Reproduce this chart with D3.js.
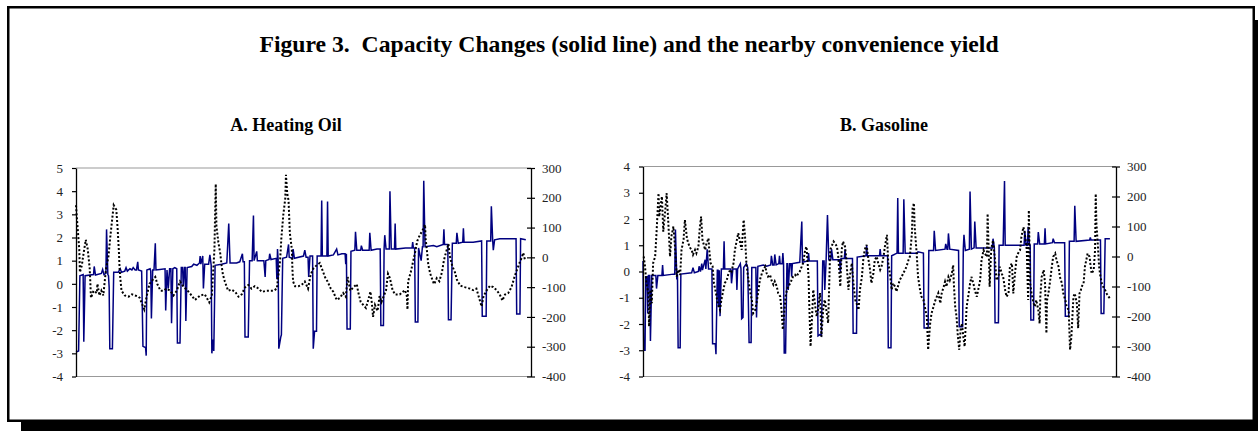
<!DOCTYPE html>
<html>
<head>
<meta charset="utf-8">
<script src="https://cdn.jsdelivr.net/npm/d3@7"></script>
<style>
  body { margin: 0; background: #fff; }
  svg text { font-family: "Liberation Serif", "Times New Roman", serif; }
</style>
</head>
<body>
<svg id="chart" width="1258" height="431"></svg>
<script>
// weeks since start of sample, shared by both panels
var weekDomain = [0, 700];

var leftTicksA = [-4, -3, -2, -1, 0, 1, 2, 3, 4, 5];
var leftTicksB = [-4, -3, -2, -1, 0, 1, 2, 3, 4];
var rightTicks = [-400, -300, -200, -100, 0, 100, 200, 300];

// A. Heating oil: capacity changes (left axis), [week, value]
var hoCapacity = [[0,-2.95],[4,-2.9],[6,0.35],[11,0.4],[12,-2.5],[14,0.35],[27,0.4],[28,0.75],[30,0.38],[39,0.45],[41,0.62],[43,0.4],[46,0.45],[47,2.35],[49,0.4],[50,0.35],[51,-0.15],[52,-2.8],[56,-2.8],[58,0.5],[65,0.5],[68,0.65],[70,0.5],[75,0.55],[77,0.7],[79,0.55],[83,0.65],[86,0.6],[88,0.7],[91,0.6],[93,0.6],[95,0.95],[96,0.6],[101,0.55],[103,-2.7],[107,-2.75],[108,-3.1],[109,0.6],[114,0.65],[115,0.55],[116,-1.5],[118,0.6],[120,0.6],[122,1.75],[123,0.6],[129,0.62],[137,0.65],[138,-1.15],[140,0.6],[142,-0.2],[144,0.65],[146,0.65],[147,-1.7],[149,0.65],[152,0.7],[155,0.65],[156,-2.55],[160,-2.55],[162,0.7],[164,0.7],[165,-0.1],[167,0.7],[168,0.7],[169,-1.6],[171,0.7],[178,0.75],[181,0.85],[186,0.8],[190,0.9],[191,1.2],[192,0.85],[195,1.2],[196,-0.2],[198,0.85],[204,0.85],[206,1.25],[208,0.8],[209,-3.0],[211,-2.4],[212,-2.9],[214,0.8],[224,0.85],[232,0.9],[235,2.6],[237,0.9],[247,0.9],[252,0.95],[256,1.3],[257,0.95],[259,0.95],[260,-2.3],[265,-2.3],[267,1.0],[271,1.0],[273,2.95],[274,1.0],[278,1.4],[279,1.0],[289,1.0],[291,0.3],[292,1.0],[297,1.05],[298,1.3],[300,1.05],[308,1.1],[309,0.2],[310,1.5],[311,1.05],[312,-2.8],[315,-2.3],[316,-2.2],[318,1.1],[324,1.15],[327,1.7],[328,1.15],[333,1.1],[334,1.5],[336,1.1],[350,1.2],[352,1.45],[354,1.15],[357,1.15],[358,0.3],[360,1.2],[364,1.2],[365,-2.8],[367,-2.05],[370,-2.05],[371,1.2],[377,1.2],[378,3.6],[379,1.2],[386,1.2],[387,3.55],[388,1.2],[396,1.25],[401,1.5],[403,1.25],[409,1.3],[414,1.3],[415,0.85],[416,1.3],[417,-1.95],[422,-1.95],[423,1.4],[429,1.45],[430,2.25],[432,1.45],[438,1.45],[439,1.65],[441,1.45],[451,1.45],[452,2.2],[454,1.45],[463,1.5],[468,1.5],[469,-1.8],[473,-1.8],[474,1.5],[475,2.1],[477,1.5],[482,1.5],[483,4.0],[485,1.5],[490,1.5],[491,2.6],[492,1.5],[507,1.55],[517,1.55],[518,1.8],[519,1.55],[521,1.55],[522,-1.65],[526,-1.65],[527,1.55],[531,1.0],[533,1.6],[534,1.6],[535,4.45],[537,1.6],[550,1.65],[555,1.6],[565,1.7],[566,2.35],[567,1.7],[572,1.7],[573,-1.55],[577,-1.55],[579,1.75],[585,1.75],[586,2.2],[588,1.75],[595,1.8],[596,2.4],[597,1.8],[611,1.8],[624,1.85],[625,-1.4],[631,-1.4],[632,1.85],[638,1.85],[639,3.35],[641,1.9],[642,1.45],[644,1.9],[652,1.95],[663,1.95],[677,1.95],[678,-1.3],[683,-1.3],[684,1.95],[692,1.9]];

// A. Heating oil: nearby convenience yield (right axis)
var hoYield = [[0,175],[2,113],[5,28],[6,-50],[9,-27],[11,4],[15,59],[18,28],[21,-35],[22,-81],[23,-136],[27,-112],[32,-120],[33,-89],[36,-128],[39,-112],[42,-128],[46,-42],[50,4],[53,74],[58,175],[62,160],[64,98],[66,20],[67,-35],[68,-66],[70,-112],[75,-128],[81,-132],[86,-124],[91,-128],[96,-132],[98,-136],[105,-175],[109,-128],[113,-89],[119,-73],[122,-66],[125,-89],[130,-112],[135,-112],[139,-105],[145,-112],[150,-128],[155,-112],[160,-81],[165,-97],[170,-108],[175,-120],[183,-143],[191,-128],[198,-124],[205,-151],[209,-128],[211,-50],[213,28],[214,144],[215,246],[216,106],[219,51],[222,12],[224,-27],[226,-58],[229,-81],[234,-112],[239,-108],[245,-116],[250,-132],[255,-124],[260,-101],[265,-93],[270,-105],[275,-97],[281,-105],[286,-116],[293,-112],[304,-112],[309,-105],[311,-66],[314,-11],[316,67],[319,144],[322,199],[323,277],[325,214],[327,191],[329,82],[332,28],[333,-42],[334,-81],[337,-97],[342,-97],[347,-93],[352,-81],[357,-105],[361,-58],[365,-38],[370,-27],[375,-19],[379,-42],[383,-66],[387,-81],[392,-105],[396,-116],[401,-143],[406,-136],[411,-120],[415,-132],[418,-66],[422,-112],[427,-100],[432,-90],[434,-115],[438,-150],[442,-160],[446,-170],[450,-140],[453,-115],[455,-150],[457,-200],[460,-160],[464,-180],[467,-130],[470,-150],[477,-110],[480,-55],[483,-70],[487,-110],[491,-125],[498,-125],[506,-110],[509,-130],[510,-175],[511,-80],[515,-50],[518,-20],[522,20],[525,55],[529,75],[533,90],[537,110],[538,60],[540,20],[542,-25],[545,-55],[549,-80],[551,-90],[555,-70],[559,-80],[563,-50],[566,-10],[569,15],[573,45],[575,5],[579,-30],[583,-50],[586,-75],[591,-95],[598,-100],[606,-105],[611,-110],[616,-105],[620,-135],[624,-165],[627,-130],[632,-110],[637,-95],[642,-100],[647,-110],[652,-125],[656,-145],[660,-125],[665,-120],[670,-100],[674,-70],[677,-50],[683,-15],[686,0],[688,15],[691,-10]];

// B. Gasoline: capacity changes (left axis)
var gasCapacity = [[0,0.4],[1,-3.0],[3,-3.0],[4,-0.2],[6,-0.2],[7,-1.6],[8,-0.15],[10,-0.15],[11,-2.65],[13,-0.15],[19,-0.15],[20,-0.65],[22,-0.15],[28,-0.15],[29,0.25],[30,-0.15],[45,-0.1],[47,-0.1],[48,1.6],[50,-0.3],[51,-0.1],[52,-2.9],[55,-2.9],[56,-0.1],[72,-0.05],[74,0.15],[76,-0.05],[82,0.0],[83,0.2],[85,0.0],[87,0.3],[88,0.05],[92,0.45],[93,0.1],[95,0.85],[97,0.1],[102,0.1],[103,-2.75],[107,-2.75],[108,-3.15],[110,0.05],[111,0.05],[112,-1.35],[113,0.05],[114,-1.7],[116,0.1],[119,0.1],[120,1.15],[121,0.1],[130,0.1],[131,-0.45],[133,0.1],[138,0.1],[139,-0.7],[140,0.1],[144,0.3],[145,0.1],[146,-1.8],[148,-1.75],[149,0.15],[153,0.3],[155,0.15],[157,-2.7],[160,-2.7],[161,0.15],[167,0.15],[168,-1.75],[170,0.2],[178,0.25],[183,0.2],[189,0.25],[190,0.6],[192,0.25],[194,0.25],[195,0.65],[197,0.25],[201,0.3],[202,0.6],[203,0.3],[206,0.3],[207,0.7],[208,0.3],[209,-3.1],[211,-3.1],[213,0.3],[214,0.3],[215,-0.7],[217,0.3],[219,0.3],[220,-0.2],[221,0.3],[232,0.35],[235,1.9],[236,0.35],[244,0.4],[245,0.7],[246,0.4],[258,0.4],[259,-2.45],[262,-2.4],[264,-2.45],[266,0.4],[268,0.4],[269,-0.7],[271,0.45],[273,2.15],[275,0.45],[278,0.45],[279,0.85],[281,0.45],[291,0.45],[292,-0.05],[293,0.5],[298,0.5],[299,0.85],[300,0.5],[310,0.5],[311,-2.35],[316,-2.35],[317,0.55],[330,0.6],[331,1.0],[332,0.6],[350,0.6],[351,0.85],[352,0.6],[362,0.6],[363,-2.9],[367,-2.9],[368,0.6],[376,0.7],[377,2.8],[378,0.7],[385,0.7],[386,2.75],[388,0.7],[406,0.7],[407,0.75],[415,0.7],[416,-2.15],[422,-2.15],[423,0.8],[430,0.8],[431,1.55],[433,0.8],[447,0.85],[448,1.05],[450,0.85],[451,0.85],[452,1.45],[454,0.85],[467,0.8],[468,-2.1],[473,-2.1],[474,0.85],[475,1.4],[477,0.8],[483,0.85],[484,3.05],[486,0.85],[490,0.9],[491,1.9],[493,0.9],[517,0.9],[518,1.25],[520,0.9],[521,-1.95],[526,-1.95],[527,1.0],[533,1.0],[535,3.45],[536,1.0],[564,1.0],[565,1.55],[567,1.0],[569,1.0],[570,1.7],[572,1.0],[573,1.0],[574,-1.85],[578,-1.85],[579,1.05],[584,1.05],[585,1.5],[587,1.05],[594,1.05],[595,1.65],[596,1.05],[606,1.1],[607,1.25],[609,1.1],[624,1.1],[625,-1.7],[630,-1.7],[631,1.15],[638,1.15],[639,2.5],[641,1.15],[661,1.2],[662,1.3],[663,1.2],[677,1.2],[678,-1.6],[682,-1.6],[684,1.25],[691,1.25]];

// B. Gasoline: nearby convenience yield (right axis)
var gasYield = [[1,0],[3,-33],[5,-89],[8,-122],[9,-233],[11,-111],[13,-156],[15,-22],[18,0],[20,78],[23,211],[24,133],[26,167],[28,200],[30,83],[33,156],[35,211],[37,133],[40,0],[42,67],[45,100],[47,44],[50,-67],[52,-44],[55,-61],[57,22],[60,56],[62,122],[65,61],[67,44],[70,28],[72,22],[74,6],[77,22],[79,11],[82,33],[84,94],[86,133],[88,56],[92,22],[94,44],[97,61],[98,22],[100,-22],[103,-33],[105,-89],[108,-122],[110,-150],[112,-167],[114,-178],[116,-144],[119,-111],[121,-89],[124,-78],[126,-61],[129,-44],[131,-50],[134,-22],[136,22],[139,56],[141,78],[144,44],[146,22],[148,89],[149,122],[151,67],[153,-22],[156,-78],[158,-111],[161,-144],[163,-189],[166,-178],[168,-156],[171,-111],[173,-78],[176,-56],[178,-44],[181,-33],[183,-56],[185,-67],[188,-61],[190,-78],[193,-94],[195,-83],[198,-100],[200,-122],[203,-133],[205,-178],[207,-244],[209,-189],[211,-133],[213,-111],[215,-100],[218,-89],[220,-78],[222,-67],[225,-61],[227,-67],[230,-56],[232,-50],[235,-33],[237,-22],[240,22],[242,33],[245,-67],[246,-156],[248,-300],[250,-211],[252,-111],[255,-167],[257,-200],[259,-178],[262,-122],[264,-267],[267,-167],[269,-144],[272,-189],[274,-222],[277,22],[279,33],[282,50],[284,44],[287,33],[289,0],[292,-100],[294,22],[296,50],[299,33],[301,-11],[304,-111],[306,-67],[309,-22],[311,-78],[314,-144],[316,-156],[319,-178],[321,-111],[324,-67],[326,-11],[328,22],[331,39],[333,0],[336,-44],[338,-89],[341,-56],[343,-11],[346,0],[348,-22],[351,-44],[353,-33],[356,0],[358,33],[361,72],[363,-22],[366,-67],[368,-111],[370,-89],[373,-100],[375,-117],[378,-94],[380,-78],[383,-67],[385,-56],[388,-44],[390,-33],[393,-11],[395,0],[398,78],[399,161],[401,178],[402,100],[405,11],[407,-67],[410,-111],[412,-133],[415,-144],[417,-167],[420,-200],[422,-311],[425,-222],[427,-189],[430,-167],[432,-150],[435,-133],[437,-122],[440,-156],[442,-123],[445,-101],[447,-84],[449,-101],[452,-68],[454,-79],[457,-57],[459,-29],[460,-90],[462,-167],[464,-200],[466,-267],[468,-311],[470,-245],[472,-223],[474,-267],[476,-300],[479,-167],[482,-123],[484,-90],[486,-68],[489,-90],[491,-112],[494,-134],[496,-112],[499,-79],[501,-12],[504,21],[506,10],[509,-1],[510,143],[512,-12],[513,-101],[515,10],[516,32],[518,54],[521,-12],[523,-79],[526,-68],[528,-34],[531,-57],[533,-68],[536,-112],[538,-134],[541,-123],[543,-34],[546,-23],[548,-123],[551,-45],[553,-1],[555,10],[558,21],[560,65],[563,98],[565,76],[568,21],[569,-68],[570,-145],[571,154],[573,-90],[575,-123],[578,-156],[580,-167],[582,-145],[585,-178],[587,-223],[588,-134],[590,-68],[593,-45],[595,-90],[597,-256],[598,-145],[600,-123],[602,-90],[605,-34],[607,-1],[610,10],[612,-12],[615,-34],[617,-68],[620,-90],[622,-123],[625,-145],[627,-167],[630,-178],[631,-245],[632,-311],[634,-267],[637,-134],[639,-123],[642,-156],[644,-239],[646,-123],[648,-112],[649,-101],[652,-90],[654,-34],[657,-1],[658,10],[661,-1],[662,-23],[664,-57],[667,-45],[669,21],[670,209],[671,110],[673,43],[675,-34],[677,-68],[679,-90],[681,-101],[684,-112],[686,-123],[689,-134],[691,-140]];

var svg = d3.select("#chart");

// drop shadow and frame
svg.append("rect")
    .attr("x", 21).attr("y", 20)
    .attr("width", 1245).attr("height", 414)
    .attr("fill", "#000");
svg.append("rect")
    .attr("x", 8.25).attr("y", 7.25)
    .attr("width", 1245.5).attr("height", 413.5)
    .attr("fill", "#fff")
    .attr("stroke", "#000")
    .attr("stroke-width", 2.5);

svg.append("text")
    .attr("x", 629).attr("y", 52)
    .attr("text-anchor", "middle")
    .style("white-space", "pre")
    .attr("font-weight", "bold")
    .attr("font-size", "23.7px")
    .text("Figure 3.  Capacity Changes (solid line) and the nearby convenience yield");

// plain hyphen for negatives, as in the original
function plainNum(d) { return String(d); }

function drawPanel(p) {
    var x = d3.scaleLinear().domain(weekDomain).range([p.left, p.right]);
    var yL = d3.scaleLinear()
        .domain([p.leftTicks[0], p.leftTicks[p.leftTicks.length - 1]])
        .range([p.bottom, p.top]);
    var yR = d3.scaleLinear()
        .domain([rightTicks[0], rightTicks[rightTicks.length - 1]])
        .range([p.bottom, p.top]);

    svg.append("text")
        .attr("x", p.titleX).attr("y", 131)
        .attr("text-anchor", "middle")
        .attr("font-weight", "bold")
        .attr("font-size", "18px")
        .text(p.title);

    // plot area border (top and bottom, grey)
    svg.append("line")
        .attr("x1", p.left).attr("x2", p.right)
        .attr("y1", p.top).attr("y2", p.top)
        .attr("stroke", "#999").attr("stroke-width", 1.2);
    svg.append("line")
        .attr("x1", p.left).attr("x2", p.right)
        .attr("y1", p.bottom).attr("y2", p.bottom)
        .attr("stroke", "#999").attr("stroke-width", 1.2);

    var capLine = d3.line()
        .x(function(d) { return x(d[0]); })
        .y(function(d) { return yL(d[1]); });
    var yieldLine = d3.line()
        .x(function(d) { return x(d[0]); })
        .y(function(d) { return yR(d[1]); });

    svg.append("path")
        .datum(p.capacity)
        .attr("d", capLine)
        .attr("fill", "none")
        .attr("stroke", "#000080")
        .attr("stroke-width", 1.5);

    svg.append("path")
        .datum(p.yield)
        .attr("d", yieldLine)
        .attr("fill", "none")
        .attr("stroke", "#000")
        .attr("stroke-width", 2)
        .attr("stroke-dasharray", "2,2");

    var gl = svg.append("g")
        .attr("transform", "translate(" + p.left + ",0)")
        .call(d3.axisLeft(yL)
            .tickValues(p.leftTicks)
            .tickFormat(plainNum)
            .tickSize(4)
            .tickSizeOuter(0)
            .tickPadding(9));

    var gr = svg.append("g")
        .attr("transform", "translate(" + p.right + ",0)")
        .call(d3.axisRight(yR)
            .tickValues(rightTicks)
            .tickFormat(plainNum)
            .tickSize(4)
            .tickSizeOuter(0)
            .tickPadding(7));
    gr.selectAll(".tick line").attr("x1", -4);

    [gl, gr].forEach(function(g) {
        g.select(".domain").attr("stroke", "#000").attr("stroke-width", 1.3);
        g.selectAll(".tick line").attr("stroke", "#000").attr("stroke-width", 1.2);
        g.selectAll("text")
            .attr("font-family", "'Liberation Serif', 'Times New Roman', serif")
            .attr("font-size", "13px")
            .attr("fill", "#222");
    });
}

drawPanel({
    title: "A. Heating Oil", titleX: 286,
    left: 76, right: 531, top: 168, bottom: 376.5,
    leftTicks: leftTicksA, capacity: hoCapacity, yield: hoYield
});
drawPanel({
    title: "B. Gasoline", titleX: 884,
    left: 643, right: 1116, top: 166.5, bottom: 376.5,
    leftTicks: leftTicksB, capacity: gasCapacity, yield: gasYield
});
</script>
</body>
</html>
